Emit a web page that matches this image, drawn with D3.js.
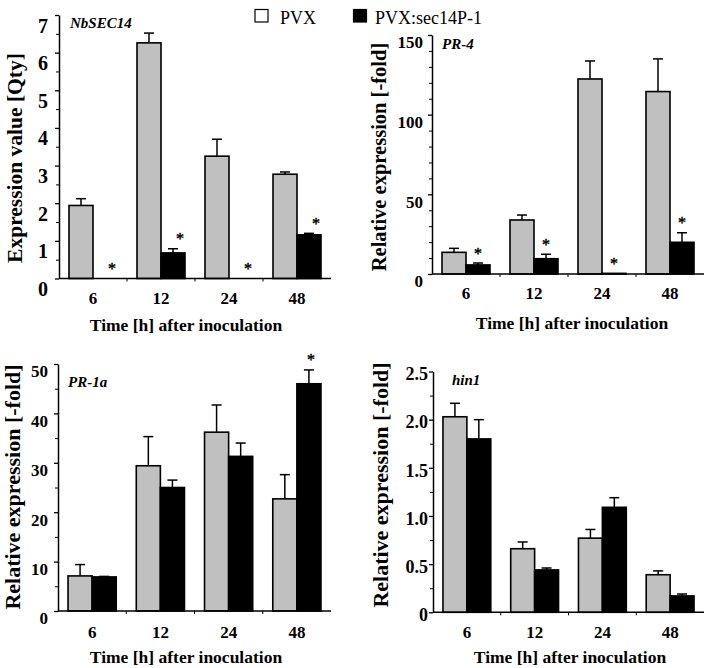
<!DOCTYPE html>
<html>
<head>
<meta charset="utf-8">
<script src="https://cdn.jsdelivr.net/npm/d3@7"></script>
<style>
body { margin: 0; background: #fff; }
svg { display: block; }
</style>
</head>
<body>
<script>
// time points and series
var times = ["6", "12", "24", "48"];
var seriesNames = ["PVX", "PVX:sec14P-1"];

// NbSEC14
var secPvx = [1.94, 6.26, 3.25, 2.77];
var secPvxErr = [0.18, 0.26, 0.45, 0.06];
var secSec = [0, 0.68, 0, 1.16];
var secSecErr = [0, 0.11, 0, 0.04];
var secSig = [true, true, true, true];

// PR-4
var pr4Pvx = [13.6, 33.9, 122.4, 114.5];
var pr4PvxErr = [2.5, 3.1, 11.3, 20.5];
var pr4Sec = [5.7, 9.6, 0.4, 19.9];
var pr4SecErr = [1.2, 2.8, 0, 6.0];
var pr4Sig = [true, true, true, true];

// PR-1a
var pr1Pvx = [7.1, 29.4, 36.2, 22.7];
var pr1PvxErr = [2.3, 5.9, 5.5, 4.9];
var pr1Sec = [6.9, 25.0, 31.3, 46.0];
var pr1SecErr = [0.1, 1.5, 2.7, 2.8];
var pr1Sig = [false, false, false, true];

// hin1
var hinPvx = [2.03, 0.66, 0.77, 0.39];
var hinPvxErr = [0.14, 0.07, 0.09, 0.04];
var hinSec = [1.80, 0.44, 1.09, 0.17];
var hinSecErr = [0.20, 0.02, 0.10, 0.02];
var hinSig = [false, false, false, false];

var width = 708, height = 668;
var grey = "#c0c0c0";
var serif = "'Liberation Serif', 'Times New Roman', serif";

var svg = d3.select("body").append("svg")
	.attr("width", width)
	.attr("height", height);

var panels = [
	{gene: "NbSEC14", yTitle: "Expression value [Qty]",
	 pvx: secPvx, pvxErr: secPvxErr, sec: secSec, secErr: secSecErr, sig: secSig,
	 yMax: 7, major: d3.range(0, 8, 1), minor: d3.range(0.5, 7, 1), fmt: function(d) { return d; },
	 x0: 59, x1: 331, yTop: 15, yBot: 278.5,
	 tickFont: 20, labelDy: 10, labelGap: 11,
	 yTitleX: 14, yTitleY: 158, yTitleFont: 21.5,
	 xLabY: 298, xTitleX: 186, xTitleY: 325,
	 starDx: 7, geneX: 70, geneY: 28},
	{gene: "PR-4", yTitle: "Relative expression [-fold]",
	 pvx: pr4Pvx, pvxErr: pr4PvxErr, sec: pr4Sec, secErr: pr4SecErr, sig: pr4Sig,
	 yMax: 150, major: [0, 50, 100, 150], minor: d3.range(10, 150, 10).filter(function(d) { return d % 50; }), fmt: function(d) { return d; },
	 x0: 432, x1: 704, yTop: 35, yBot: 274,
	 tickFont: 17, labelDy: 7, labelGap: 9,
	 yTitleX: 379, yTitleY: 157, yTitleFont: 20.5,
	 xLabY: 293, xTitleX: 572, xTitleY: 323,
	 starDx: 0, geneX: 442, geneY: 49},
	{gene: "PR-1a", yTitle: "Relative expression [-fold]",
	 pvx: pr1Pvx, pvxErr: pr1PvxErr, sec: pr1Sec, secErr: pr1SecErr, sig: pr1Sig,
	 yMax: 50, major: d3.range(0, 60, 10), minor: d3.range(5, 50, 10), fmt: function(d) { return d; },
	 x0: 58, x1: 331, yTop: 364, yBot: 611,
	 tickFont: 17, labelDy: 7, labelGap: 10,
	 yTitleX: 12, yTitleY: 487, yTitleFont: 22,
	 xLabY: 632, xTitleX: 186, xTitleY: 657,
	 starDx: 2, geneX: 68, geneY: 387},
	{gene: "hin1", yTitle: "Relative expression [-fold]",
	 pvx: hinPvx, pvxErr: hinPvxErr, sec: hinSec, secErr: hinSecErr, sig: hinSig,
	 yMax: 2.5, major: d3.range(0, 2.75, 0.5), minor: d3.range(0.25, 2.5, 0.5), fmt: function(d) { return d === 0 ? "0" : d.toFixed(1); },
	 x0: 433, x1: 704, yTop: 371.5, yBot: 612.3,
	 tickFont: 18, labelDy: 2, labelGap: 5,
	 yTitleX: 380, yTitleY: 485, yTitleFont: 22,
	 xLabY: 632, xTitleX: 570, xTitleY: 657,
	 starDx: 0, geneX: 452, geneY: 385}
];

panels.forEach(function(p) {
	var g = svg.append("g");

	var x = d3.scaleBand()
		.domain(times)
		.range([p.x0, p.x1])
		.paddingInner(0.294)
		.paddingOuter(0.147);

	var xs = d3.scaleBand()
		.domain(seriesNames)
		.range([0, x.bandwidth()]);

	var y = d3.scaleLinear()
		.domain([0, p.yMax])
		.range([p.yBot, p.yTop]);

	var cells = d3.merge(times.map(function(t, i) {
		return [
			{t: t, s: seriesNames[0], v: p.pvx[i], e: p.pvxErr[i]},
			{t: t, s: seriesNames[1], v: p.sec[i], e: p.secErr[i], sig: p.sig[i]}
		];
	}));

	function cx(d) { return x(d.t) + xs(d.s) + xs.bandwidth() / 2; }

	// bars
	g.selectAll("rect.bar")
		.data(cells.filter(function(d) { return d.v > 0; }))
		.enter()
		.append("rect")
		.attr("class", "bar")
		.attr("x", function(d) { return x(d.t) + xs(d.s); })
		.attr("y", function(d) { return y(d.v); })
		.attr("width", xs.bandwidth())
		.attr("height", function(d) { return y(0) - y(d.v); })
		.attr("fill", function(d) { return d.s === seriesNames[0] ? grey : "#000"; })
		.attr("stroke", "#000")
		.attr("stroke-width", 1.6);

	// error bars (upper only)
	var errs = cells.filter(function(d) { return d.e > 0; });
	g.selectAll("line.err")
		.data(errs)
		.enter()
		.append("line")
		.attr("stroke", "#000")
		.attr("stroke-width", 1.5)
		.attr("x1", cx)
		.attr("x2", cx)
		.attr("y1", function(d) { return y(d.v); })
		.attr("y2", function(d) { return y(d.v + d.e); });
	g.selectAll("line.cap")
		.data(errs)
		.enter()
		.append("line")
		.attr("stroke", "#000")
		.attr("stroke-width", 1.5)
		.attr("x1", function(d) { return cx(d) - 5; })
		.attr("x2", function(d) { return cx(d) + 5; })
		.attr("y1", function(d) { return y(d.v + d.e); })
		.attr("y2", function(d) { return y(d.v + d.e); });

	// significance stars (stroked so they render grey-scale, like the print)
	g.selectAll("text.star")
		.data(cells.filter(function(d) { return d.sig; }))
		.enter()
		.append("text")
		.attr("x", function(d) { return cx(d) + p.starDx; })
		.attr("y", function(d) { return y(d.v + d.e) - 12 + 7.5; })
		.attr("text-anchor", "middle")
		.style("font-family", serif)
		.attr("font-size", 16)
		.attr("fill", "#000")
		.attr("stroke", "#000")
		.attr("stroke-width", 0.4)
		.text("*");

	// y axis
	var yAxis = g.append("g")
		.attr("transform", "translate(" + p.x0 + ",0)")
		.call(d3.axisLeft(y).tickValues(p.major).tickFormat(p.fmt)
			.tickSize(4).tickSizeOuter(0).tickPadding(p.labelGap - 4));
	yAxis.select(".domain").attr("stroke-width", 1.5);
	yAxis.selectAll(".tick line").attr("stroke-width", 1.3);
	yAxis.selectAll(".tick text")
		.attr("dy", "0.35em")
		.attr("y", p.labelDy)
		.style("font-family", serif)
		.attr("font-size", p.tickFont)
		.attr("font-weight", "bold")
		.attr("fill", "#000");
	g.append("g")
		.attr("transform", "translate(" + p.x0 + ",0)")
		.call(d3.axisLeft(y).tickValues(p.minor).tickFormat("").tickSize(3).tickSizeOuter(0))
		.call(function(a) { a.select(".domain").remove(); });

	// x axis baseline with small ticks between groups
	g.append("line")
		.attr("x1", p.x0).attr("x2", p.x1)
		.attr("y1", y(0)).attr("y2", y(0))
		.attr("stroke", "#000")
		.attr("stroke-width", 1.5);
	var gap = (x.step() - x.bandwidth()) / 2;
	g.selectAll("line.xt")
		.data(times.slice(1))
		.enter()
		.append("line")
		.attr("stroke", "#000")
		.attr("x1", function(d) { return x(d) - gap; })
		.attr("x2", function(d) { return x(d) - gap; })
		.attr("y1", y(0)).attr("y2", y(0) + 3);

	g.selectAll("text.xlab")
		.data(times)
		.enter()
		.append("text")
		.attr("x", function(d) { return x(d) + x.bandwidth() / 2; })
		.attr("y", p.xLabY)
		.attr("dy", "0.35em")
		.attr("text-anchor", "middle")
		.style("font-family", serif)
		.attr("font-size", 17)
		.attr("font-weight", "bold")
		.text(function(d) { return d; });

	g.append("text")
		.attr("x", p.xTitleX)
		.attr("y", p.xTitleY)
		.attr("dy", "0.35em")
		.attr("text-anchor", "middle")
		.style("font-family", serif)
		.attr("font-size", 17.5)
		.attr("font-weight", "bold")
		.text("Time [h] after inoculation");

	g.append("text")
		.attr("transform", "translate(" + p.yTitleX + "," + p.yTitleY + ") rotate(-90)")
		.attr("dy", "0.35em")
		.attr("text-anchor", "middle")
		.style("font-family", serif)
		.attr("font-size", p.yTitleFont)
		.attr("font-weight", "bold")
		.text(p.yTitle);

	g.append("text")
		.attr("x", p.geneX)
		.attr("y", p.geneY)
		.style("font-family", serif)
		.attr("font-size", 15)
		.attr("font-weight", "bold")
		.attr("font-style", "italic")
		.text(p.gene);
});

// legend
var legend = svg.append("g");
legend.selectAll("rect")
	.data(seriesNames)
	.enter()
	.append("rect")
	.attr("x", function(d, i) { return i === 0 ? 255 : 353.5; })
	.attr("y", 9.5)
	.attr("width", 13)
	.attr("height", 12.5)
	.attr("fill", function(d, i) { return i === 0 ? "#fff" : "#000"; })
	.attr("stroke", "#000")
	.attr("stroke-width", 1.2);
legend.selectAll("text")
	.data(seriesNames)
	.enter()
	.append("text")
	.attr("x", function(d, i) { return i === 0 ? 280 : 375; })
	.attr("y", 24)
	.style("font-family", serif)
	.attr("font-size", 18)
	.text(function(d) { return d; });
</script>
</body>
</html>
